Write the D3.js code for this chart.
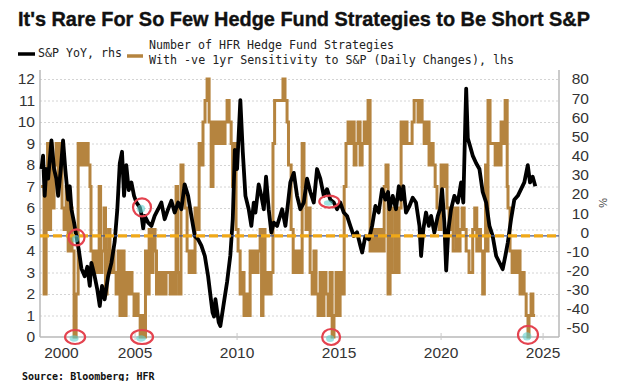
<!DOCTYPE html>
<html><head><meta charset="utf-8">
<script src="https://cdn.jsdelivr.net/npm/d3@7"></script>
<style>body{margin:0;background:#fff} svg{display:block}</style>
</head><body>
<svg id="c" width="621" height="381"></svg>
<script>
// ---------- DATA ----------
const titleText = "It's Rare For So Few Hedge Fund Strategies to Be Short S&P";
const legendSpx = "S&P YoY, rhs";
const legendHfr1 = "Number of HFR Hedge Fund Strategies";
const legendHfr2 = "With -ve 1yr Sensitivity to S&P (Daily Changes), lhs";
const sourceText = "Source: Bloomberg; HFR";

// S&P 500 YoY % (rhs)
const spxYears = [2000.41,2000.49,2000.57,2000.65,2000.74,2000.90,2001.03,2001.14,2001.23,2001.36,2001.47,2001.58,2001.72,2001.80,2001.88,2002.01,2002.12,2002.24,2002.37,2002.53,2002.66,2002.78,2002.86,2003.02,2003.15,2003.27,2003.38,2003.51,2003.68,2003.84,2004.00,2004.13,2004.25,2004.36,2004.46,2004.57,2004.69,2004.82,2004.95,2005.07,2005.23,2005.30,2005.40,2005.47,2005.64,2005.80,2005.96,2006.13,2006.29,2006.45,2006.62,2006.78,2006.94,2007.11,2007.27,2007.43,2007.60,2007.76,2007.93,2008.09,2008.25,2008.42,2008.58,2008.74,2008.80,2008.87,2008.94,2009.10,2009.18,2009.35,2009.51,2009.67,2009.79,2009.89,2010.00,2010.16,2010.28,2010.41,2010.57,2010.70,2010.82,2010.90,2011.06,2011.19,2011.31,2011.42,2011.55,2011.68,2011.80,2011.96,2012.21,2012.37,2012.61,2012.78,2012.94,2013.10,2013.27,2013.43,2013.59,2013.76,2013.92,2014.08,2014.25,2014.41,2014.57,2014.74,2014.90,2015.06,2015.23,2015.39,2015.55,2015.72,2015.88,2016.04,2016.13,2016.29,2016.46,2016.62,2016.78,2016.94,2017.11,2017.27,2017.40,2017.47,2017.63,2017.79,2017.93,2018.04,2018.15,2018.28,2018.45,2018.61,2018.77,2018.94,2019.02,2019.13,2019.26,2019.40,2019.51,2019.67,2019.84,2019.95,2020.05,2020.16,2020.25,2020.36,2020.49,2020.65,2020.82,2020.98,2021.09,2021.19,2021.23,2021.31,2021.42,2021.55,2021.72,2021.88,2022.04,2022.21,2022.37,2022.53,2022.70,2022.86,2023.02,2023.15,2023.27,2023.43,2023.59,2023.76,2023.92,2024.08,2024.25,2024.36,2024.49,2024.62];
const spxYoY = [33,40,19,33,28,48,33,28,19,33,48,33,17,24,12,5,-2,-9,-19,-23,-18,-28,-16,-23,-30,-38.5,-28,-35,-23,-16,-5,12,36,42,19,35,22,26,19,15.5,13,10,2,8.5,5,3.3,8.5,12,15.5,6.8,12,16.4,10.3,15.5,12,25,19,8.5,-2,-3.7,-7,-12.4,-23,-37,-42,-44,-35,-47,-49,-37,-26,-12,7,43,33,69,42,19,12,3.3,15.5,10.3,25,19,12,29,12,-0.2,5,3.3,12,3.3,26,31,19,12,15.5,28,21,15.5,33,28,19,22.5,17,15.5,12,15.5,10.3,8.5,3.3,-2,0,-7,-10.6,-2,-3.7,3.3,13.7,10.3,22.5,17,21,12,19,12,24,17,24,10.3,13.7,18,15.5,3.3,-12.4,1.6,10.3,3.3,8.5,-0.2,8.5,12,22.5,5,-20,1.6,12,19,15.5,26,15.5,59,75,49,45,40,36,33,21,15.5,3.3,-2,-12.4,-15.8,-19.3,-12.4,-5.4,6.8,17,19,22.5,26,35,26,29,24];

// Number of HFR strategies with negative sensitivity (lhs), step series
const hfrYears = [2000.39,2000.54,2000.64,2000.71,2000.78,2000.86,2000.93,2001.03,2001.13,2001.23,2001.32,2001.42,2001.52,2001.62,2001.72,2001.81,2001.91,2002.01,2002.11,2002.21,2002.30,2002.40,2002.50,2002.60,2002.70,2002.79,2002.84,2002.94,2003.04,2003.14,2003.24,2003.31,2003.38,2003.48,2003.55,2003.63,2003.70,2003.77,2003.87,2003.97,2004.07,2004.17,2004.26,2004.36,2004.46,2004.56,2004.66,2004.75,2004.85,2004.95,2005.05,2005.15,2005.25,2005.34,2005.44,2005.51,2005.59,2005.69,2005.78,2005.88,2005.98,2006.05,2006.13,2006.23,2006.32,2006.42,2006.52,2006.72,2006.81,2006.91,2007.01,2007.08,2007.16,2007.25,2007.35,2007.45,2007.55,2007.65,2007.75,2007.84,2007.94,2008.04,2008.14,2008.24,2008.33,2008.43,2008.53,2008.63,2008.73,2008.82,2008.92,2009.02,2009.12,2009.22,2009.31,2009.41,2009.51,2009.61,2009.71,2009.78,2009.85,2009.95,2010.05,2010.15,2010.25,2010.34,2010.44,2010.54,2010.64,2010.74,2010.83,2010.93,2011.03,2011.13,2011.20,2011.27,2011.37,2011.47,2011.57,2011.67,2011.76,2011.84,2012.25,2012.35,2012.45,2012.52,2012.65,2012.75,2012.84,2012.94,2013.04,2013.11,2013.19,2013.28,2013.38,2013.48,2013.58,2013.68,2013.77,2013.87,2013.97,2014.07,2014.17,2014.26,2014.36,2014.46,2014.56,2014.66,2014.75,2014.85,2014.95,2015.05,2015.15,2015.25,2015.34,2015.44,2015.54,2015.64,2015.74,2015.83,2015.93,2016.03,2016.13,2016.23,2016.32,2016.42,2016.52,2016.62,2016.72,2016.81,2016.91,2017.01,2017.11,2017.21,2017.30,2017.40,2017.50,2017.60,2017.75,2017.84,2017.94,2018.04,2018.14,2018.24,2018.33,2018.58,2018.68,2018.87,2018.97,2019.07,2019.17,2019.31,2019.41,2019.51,2019.61,2019.71,2019.80,2019.90,2020.00,2020.10,2020.20,2020.29,2020.39,2020.49,2020.59,2020.74,2020.83,2020.93,2021.03,2021.13,2021.23,2021.37,2021.55,2021.65,2021.75,2021.85,2021.93,2022.04,2022.12,2022.18,2022.23,2022.30,2022.40,2022.55,2022.65,2022.75,2022.84,2022.94,2023.04,2023.14,2023.24,2023.28,2023.38,2023.48,2023.58,2023.68,2023.77,2023.87,2023.97,2024.07,2024.17,2024.26,2024.31,2024.41,2024.50,2024.61];
const hfrCount = [7,2,7,9,5,9,6,8,9,7,9,6,5,7,4,6,4,0,2,9,8,9,8,9,8,7,4,3,4,3,7,3,4,6,2,4,5,3,4,3,2,4,1,4,1,3,2,3,2,1,2,1,0,1,0,4,2,5,3,5,4,2,3,2,3,2,3,2,3,2,7,3,2,8,7,6,4,3,4,3,6,5,9,8,10,11,12,10,7,10,9,10,9,10,9,10,11,10,9,7,9,5,4,2,3,1,2,1,4,3,4,3,4,5,1,5,2,3,2,3,9,11,12,11,10,8,5,3,4,3,4,3,9,7,5,6,3,2,4,2,1,3,1,3,2,1,3,0,1,3,1,3,2,7,9,10,9,10,8,9,10,8,9,10,9,11,4,5,4,5,4,5,4,7,8,2,6,3,6,3,6,10,9,10,9,10,11,10,11,10,9,10,8,9,8,7,6,5,8,7,8,6,5,6,4,6,4,5,6,5,4,3,5,6,4,5,4,2,4,8,4,11,9,9,8,9,8,10,9,11,7,6,4,3,4,3,4,2,3,2,1,0,1,2,1,1];

const leftTicks = [0,1,2,3,4,5,6,7,8,9,10,11,12];
const rightTicks = [80,70,60,50,40,30,20,10,0,-10,-20,-30,-40,-50];
const xTicks = [2000,2005,2010,2015,2020,2025];
const refLevel = 4.7; // dashed reference line, lhs units

// highlighted points: year, lhs value, radii
const marks = [
  {year:2002.13, lhs:4.63, rx:8, ry:8},
  {year:2005.34, lhs:6.03, rx:9, ry:9},
  {year:2014.52, lhs:6.3, rx:10, ry:6},
  {year:2002.06, lhs:0.0, rx:10, ry:7},
  {year:2005.34, lhs:0.0, rx:11, ry:7},
  {year:2014.61, lhs:0.0, rx:9, ry:8},
  {year:2024.26, lhs:0.1, rx:10, ry:9}
];

// ---------- LAYOUT ----------
const svg = d3.select("#c");
const L = 40, R = 559, T = 70, B = 337;
const x = d3.scaleLinear().domain([2000.34, 2025.78]).range([L, R]);
const yL = d3.scaleLinear().domain([0, 12.42]).range([B, T]);
const yR = d3.scaleLinear().domain([-54.7, 84.7]).range([B, T]);

const orange = "#b5843f", amber = "#f0a818";

// title
svg.append("text").attr("x",18).attr("y",26)
  .attr("font-family","Liberation Sans, Arial, sans-serif").attr("font-weight","bold")
  .attr("font-size",21).attr("fill","#111").attr("stroke","#111").attr("stroke-width",0.4)
  .attr("textLength",572).attr("lengthAdjust","spacingAndGlyphs").text(titleText);

// legend
const mono = "DejaVu Sans Mono, monospace";
svg.append("line").attr("x1",18).attr("x2",35).attr("y1",54).attr("y2",54).attr("stroke","#000").attr("stroke-width",3.5);
svg.append("text").attr("x",38).attr("y",57).attr("font-family",mono).attr("font-size",12.5).attr("fill","#222")
  .attr("textLength",84).attr("lengthAdjust","spacingAndGlyphs").text(legendSpx);
svg.append("line").attr("x1",127).attr("x2",143).attr("y1",56).attr("y2",56).attr("stroke",orange).attr("stroke-width",3.5);
svg.append("text").attr("x",149).attr("y",49).attr("font-family",mono).attr("font-size",12.5).attr("fill","#222")
  .attr("textLength",245).attr("lengthAdjust","spacingAndGlyphs").text(legendHfr1);
svg.append("text").attr("x",149).attr("y",64).attr("font-family",mono).attr("font-size",12.5).attr("fill","#222")
  .attr("textLength",365).attr("lengthAdjust","spacingAndGlyphs").text(legendHfr2);

// gridlines
const grid = svg.append("g").attr("transform",`translate(${L},0)`)
  .call(d3.axisLeft(yL).tickValues(leftTicks.filter(d=>d>0)).tickSize(-(R-L)).tickFormat(""));
grid.select(".domain").remove();
grid.selectAll("line").attr("stroke","#d4d4d4").attr("stroke-dasharray","2,2").attr("stroke-width",1);

// axes frame
svg.append("line").attr("x1",L).attr("x2",L).attr("y1",T).attr("y2",B).attr("stroke","#b8b8b8").attr("stroke-width",1.5);
svg.append("line").attr("x1",R).attr("x2",R).attr("y1",T).attr("y2",B).attr("stroke","#b8b8b8").attr("stroke-width",1.5);
svg.append("line").attr("x1",L).attr("x2",R).attr("y1",B).attr("y2",B).attr("stroke","#b8b8b8").attr("stroke-width",1.5);

const labFont = "Liberation Sans, Arial, sans-serif";
// left axis labels
const gl = svg.append("g").attr("transform",`translate(${L},0)`)
  .call(d3.axisLeft(yL).tickValues(leftTicks).tickSize(0).tickPadding(5).tickFormat(d=>String(d)));
gl.select(".domain").remove();
gl.selectAll("text").attr("font-family",labFont).attr("font-size",15.5).attr("fill","#333");

// right axis labels
const gr = svg.append("g").attr("transform",`translate(${R},0)`)
  .call(d3.axisRight(yR).tickValues(rightTicks).tickSize(0).tickFormat(d=>String(d)));
gr.select(".domain").remove();
gr.selectAll("text").attr("font-family",labFont).attr("font-size",15.5).attr("fill","#333")
  .attr("text-anchor","end").attr("x",30);
svg.append("text").attr("transform",`translate(599,203) rotate(90)`).attr("text-anchor","middle")
  .attr("font-family",labFont).attr("font-size",11).attr("fill","#444").text("%");

// x axis
const gx = svg.append("g").attr("transform",`translate(0,${B})`)
  .call(d3.axisBottom(x).tickValues(xTicks).tickSize(0).tickPadding(10).tickFormat(d3.format("d")));
gx.select(".domain").remove();
gx.selectAll("text").attr("font-family",labFont).attr("font-size",15.5).attr("fill","#333");
gx.selectAll(".tick").each(function(d){
  const w = d3.select(this).select("text").node().getBBox().width;
  const px = Math.max(x(d), L + w/2 + 4);
  d3.select(this).attr("transform",`translate(${px},0)`);
});
svg.append("g").selectAll("line").data(xTicks.filter(d=>x(d)>=L && x(d)<=R)).join("line")
  .attr("x1",d=>x(d)).attr("x2",d=>x(d)).attr("y1",B-4).attr("y2",B+3)
  .attr("stroke","#c8c8c8").attr("stroke-width",1);

// orange step series
const hfr = hfrYears.map((d,i)=>[d,hfrCount[i]]);
svg.append("path").datum(hfr)
  .attr("d", d3.line().x(d=>x(d[0])).y(d=>yL(d[1])).curve(d3.curveStepAfter))
  .attr("fill","none").attr("stroke",orange).attr("stroke-width",3).attr("stroke-linejoin","miter");

// black line
const spx = spxYears.map((d,i)=>[d,spxYoY[i]]);
svg.append("path").datum(spx)
  .attr("d", d3.line().x(d=>x(d[0])).y(d=>yR(d[1])))
  .attr("fill","none").attr("stroke","#000").attr("stroke-width",3.8).attr("stroke-linejoin","round");

// dashed reference line
svg.append("line").attr("x1",L).attr("x2",R).attr("y1",yL(refLevel)).attr("y2",yL(refLevel))
  .attr("stroke","#4a5a8a").attr("stroke-width",1.2);
svg.append("line").attr("x1",L).attr("x2",R).attr("y1",yL(refLevel)).attr("y2",yL(refLevel))
  .attr("stroke",amber).attr("stroke-width",3.2).attr("stroke-dasharray","9,4");

// highlight circles
const mg = svg.append("g");
mg.selectAll("ellipse.cy").data(marks).join("ellipse").attr("class","cy")
  .attr("cx",d=>x(d.year)-1).attr("cy",d=>yL(d.lhs)+1.5).attr("rx",d=>d.rx*0.45).attr("ry",d=>d.ry*0.45)
  .attr("fill","#5fd0cf").attr("opacity",0.6);
mg.selectAll("ellipse.rd").data(marks).join("ellipse").attr("class","rd")
  .attr("cx",d=>x(d.year)).attr("cy",d=>yL(d.lhs)).attr("rx",d=>d.rx).attr("ry",d=>d.ry)
  .attr("fill","none").attr("stroke","#e4434f").attr("stroke-width",2.2);

// source
svg.append("text").attr("x",22).attr("y",380).attr("font-family",mono).attr("font-weight","bold")
  .attr("font-size",10).attr("fill","#111").text(sourceText);
</script>
</body></html>
